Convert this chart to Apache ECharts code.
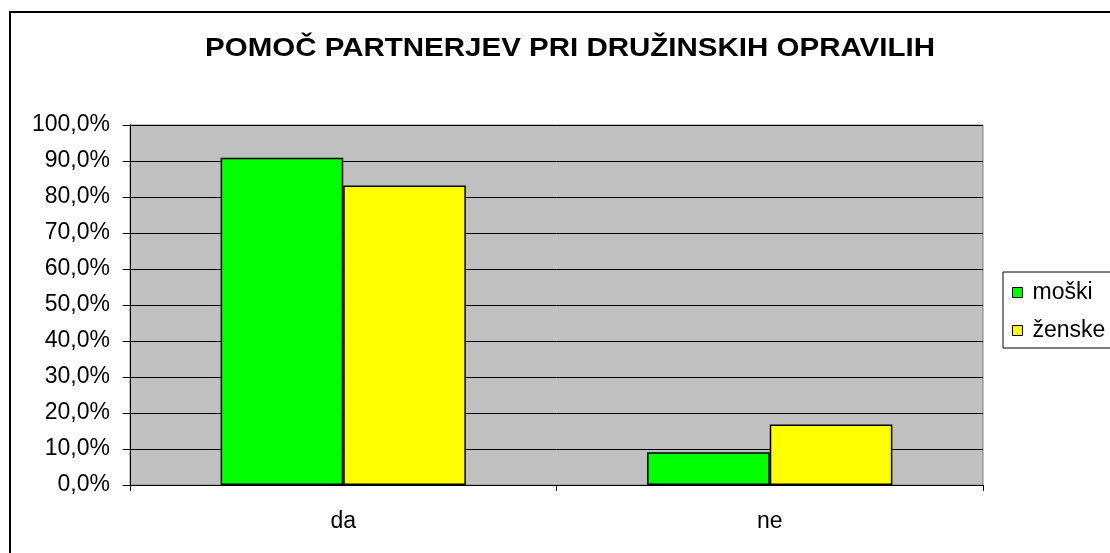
<!DOCTYPE html>
<html>
<head>
<meta charset="utf-8">
<script src="https://cdn.jsdelivr.net/npm/echarts@6/dist/echarts.min.js"></script>
<style>
html,body{margin:0;padding:0;background:#fff;}
#main{width:1110px;height:553px;}
</style>
</head>
<body>
<div id="main"></div>
<script>
// podatki
var titleText = 'POMOČ PARTNERJEV PRI DRUŽINSKIH OPRAVILIH';
var categories = ['da', 'ne'];
var seriesNames = ['moški', 'ženske'];
var moski = [90.9, 9.1];
var zenske = [83.2, 16.8];
var colors = ['#00ff00', '#ffff00'];

var font = 'Liberation Sans, Arial, sans-serif';

function pct(v){
	return v.toFixed(1).replace('.', ',') + '%';
}

var chart = echarts.init(document.getElementById('main'));
var option = {
	backgroundColor: '#fff',
	animation: false,
	legend: {
		data: seriesNames,
		orient: 'vertical',
		left: 1003,
		top: 272,
		icon: 'rect',
		itemWidth: 10,
		itemHeight: 10,
		itemGap: 15,
		padding: [9, 30, 6, 9],
		borderColor: '#000',
		borderWidth: 1,
		textStyle: {fontFamily: font, fontSize: 23, color: '#000', padding: [0, 0, 0, 5]},
		itemStyle: {borderColor: '#000', borderWidth: 1}
	},
	grid: {
		left: 130, right: 127, top: 125, bottom: 68,
		show: true,
		backgroundColor: '#c0c0c0',
		borderColor: '#808080',
		borderWidth: 1
	},
	xAxis: {
		type: 'category',
		data: categories,
		boundaryGap: true,
		axisLine: {lineStyle: {color: '#000', width: 1}},
		axisTick: {show: true, length: 6, lineStyle: {color: '#000'}},
		axisLabel: {fontFamily: font, fontSize: 23, color: '#000', margin: 25}
	},
	yAxis: {
		type: 'value',
		min: 0, max: 100, interval: 10,
		axisLine: {show: true, lineStyle: {color: '#000', width: 1}},
		axisTick: {show: true, length: 7, lineStyle: {color: '#000'}},
		axisLabel: {fontFamily: font, fontSize: 23, color: '#000', margin: 20, formatter: pct},
		splitLine: {lineStyle: {color: '#000', width: 1}}
	},
	series: [
		{
			name: seriesNames[0], type: 'bar', data: moski,
			barGap: '0%', barCategoryGap: '42.5%',
			itemStyle: {color: colors[0], borderColor: '#000', borderWidth: 1.5}
		},
		{
			name: seriesNames[1], type: 'bar', data: zenske,
			barGap: '0%', barCategoryGap: '42.5%',
			itemStyle: {color: colors[1], borderColor: '#000', borderWidth: 1.5}
		}
	],
	graphic: [
		{
			type: 'rect',
			shape: {x: 10, y: 12, width: 1300, height: 700},
			style: {fill: 'none', stroke: '#000', lineWidth: 2},
			silent: true
		},
		{
			// naslov, malo raztegnjen kot v Excelu
			type: 'text',
			x: 570, y: 49,
			scaleX: 1.18,
			style: {
				text: titleText,
				font: 'bold 25px ' + font,
				fill: '#000',
				align: 'center',
				verticalAlign: 'middle'
			},
			silent: true
		}
	]
};
chart.setOption(option);
</script>
</body>
</html>
